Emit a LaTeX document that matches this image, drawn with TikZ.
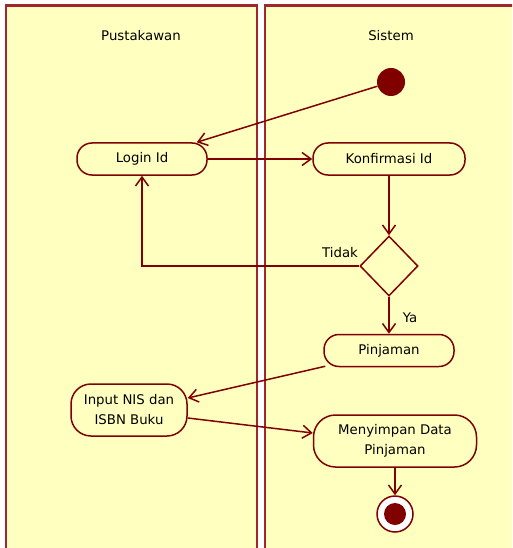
\documentclass[tikz,border=0pt]{standalone}
\usepackage{fontspec}
\setmainfont{DejaVu Sans}
\usetikzlibrary{arrows.meta,shapes.geometric}

\definecolor{garis}{RGB}{128,0,0}
\definecolor{tepi}{RGB}{160,40,44}
\definecolor{kuning}{RGB}{255,255,192}

\tikzset{
    lane/.style={draw=tepi, line width=2.2pt, fill=kuning},
    aksi/.style={draw=garis, line width=1.5pt, fill=kuning, rounded corners=15pt,
        minimum height=32pt, align=center, font=\fontsize{13.3}{20}\selectfont},
    cabang/.style={draw=garis, line width=1.5pt, fill=kuning, diamond, inner sep=0pt,
        minimum width=58pt, minimum height=60pt},
    mulai/.style={circle, fill=garis, minimum size=28pt, inner sep=0pt},
    selesai/.style={circle, draw=garis, line width=1.5pt, fill=white, minimum size=36pt, inner sep=0pt},
    alur/.style={draw=garis, line width=1.5pt, -{Straight Barb[length=9pt,width=13pt]}},
    teks/.style={font=\fontsize{13.3}{20}\selectfont}
}

\begin{document}
\begin{tikzpicture}[x=1pt, y=-1pt]
    \useasboundingbox (0,0) rectangle (512,548);
    \clip (0,0) rectangle (512,548);

    % Swimlanes
    \draw[lane] (6,5.5) rectangle (257,570);
    \draw[lane] (265,5.5) rectangle (530,570);
    \node[teks] (pustakawan) at (141,36) {Pustakawan};
    \node[teks] (sistem) at (391,36) {Sistem};

    % Activities
    \node[mulai] (mulai) at (391,82) {};
    \node[aksi, minimum width=130pt] (login) at (142,159) {Login Id};
    \node[aksi, minimum width=152pt] (konfirmasi) at (389,159) {Konfirmasi Id};
    \node[cabang] (cek) at (389,266) {};
    \node[aksi, minimum width=130pt] (pinjaman) at (389,350.5) {Pinjaman};
    \node[aksi, minimum width=116pt, minimum height=52pt, rounded corners=20pt] (input) at (129,410) {Input NIS dan\\ISBN Buku};
    \node[aksi, minimum width=163pt, minimum height=52pt, rounded corners=22pt] (simpan) at (395,441) {Menyimpan Data\\Pinjaman};
    \node[selesai] (selesai) at (395,514) {};
    \fill[garis] (selesai) circle (11);

    % Guard labels
    \node[teks] (tidak) at (340,253) {Tidak};
    \node[teks] (ya) at (410,318) {Ya};

    % Flows
    \draw[alur] (mulai) -- ([xshift=-11pt]login.north east);
    \draw[alur] (login) -- (konfirmasi);
    \draw[alur] (konfirmasi) -- (cek);
    \draw[alur] (cek.west) -| (login.south);
    \draw[alur] (cek) -- (pinjaman);
    \draw[alur] ([xshift=2pt,yshift=1pt]pinjaman.south west) -- ([yshift=12pt]input.east);
    \draw[alur] ([yshift=-8pt]input.east) -- ([yshift=8pt]simpan.west);
    \draw[alur] (simpan) -- (selesai);
\end{tikzpicture}
\end{document}
